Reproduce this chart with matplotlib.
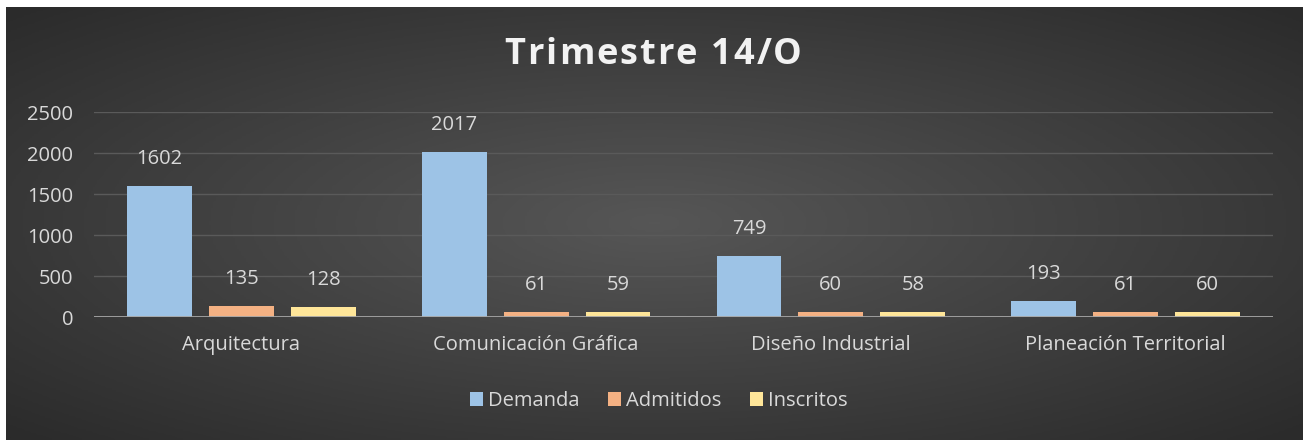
import matplotlib
matplotlib.use('Agg')
import matplotlib.pyplot as plt
import numpy as np

categorias = ["Arquitectura", "Comunicación Gráfica", "Diseño Industrial", "Planeación Territorial"]
series = ["Demanda", "Admitidos", "Inscritos"]
demanda = [1602, 2017, 749, 193]
admitidos = [135, 61, 60, 61]
inscritos = [128, 59, 58, 60]
colores = ["#9DC3E6", "#F4B183", "#FFE699"]
yticks = [0, 500, 1000, 1500, 2000, 2500]
titulo = "Trimestre 14/O"

plt.rcParams['font.family'] = ['Open Sans', 'DejaVu Sans']
fs = 14.5

W, H = 1303, 440
fig = plt.figure(figsize=(W / 100, H / 100), dpi=100)
fig.patch.set_facecolor('white')

# background with radial gradient (dark)
bg = fig.add_axes([6 / W, 0, 1 - 6 / W, 1 - 7 / H])
yy, xx = np.mgrid[-1:1:200j, -1:1:600j]
r = np.sqrt(xx ** 2 + yy ** 2)
grad = np.clip(r / 1.4, 0, 1)
bg.imshow(grad, cmap=matplotlib.colors.LinearSegmentedColormap.from_list('g', ['#565656', '#2b2b2b']),
          aspect='auto', extent=[0, 1, 0, 1])
bg.set_axis_off()

ax = fig.add_axes([94 / W, 1 - 317 / H, (1273 - 94) / W, (317 - 112) / H])
ax.patch.set_alpha(0)

x = np.arange(len(categorias))
ancho = 0.22
paso = 0.278
valores = [demanda, admitidos, inscritos]
for i, (nombre, vals) in enumerate(zip(series, valores)):
    pos = x + (i - 1) * paso
    bars = ax.bar(pos, vals, width=ancho, color=colores[i], label=nombre, zorder=3)
    for b, v in zip(bars, vals):
        ax.annotate(str(v), (b.get_x() + b.get_width() / 2, v), xytext=(0, 27),
                    textcoords='offset pixels', ha='center', va='center',
                    color='#d9d9d9', fontsize=fs)

ax.set_xlim(-0.5, len(categorias) - 0.5)
ax.set_ylim(0, 2500)
ax.set_yticks(yticks)
ax.grid(axis='y', color='#5a5a5a', linewidth=1, zorder=0)
ax.axhline(0, color='#a6a6a6', linewidth=2, zorder=4)
for s in ax.spines.values():
    s.set_visible(False)
ax.tick_params(length=0, colors='#d9d9d9', labelsize=fs)
ax.tick_params(axis='y', pad=15)
ax.set_xticks(x)
ax.set_xticklabels(categorias)
ax.tick_params(axis='x', pad=13)

# title with letter spacing
renderer = fig.canvas.get_renderer()
tracking = 2
partes = []
for ch in titulo:
    t = fig.text(0, 0, ch, color='#f2f2f2', fontsize=26, fontweight='bold', va='center', ha='left')
    w = t.get_window_extent(renderer).width if ch != ' ' else 10
    partes.append((t, w))
total = sum(w for _, w in partes) + tracking * (len(partes) - 1)
xpos = 653 - total / 2
for t, w in partes:
    t.set_position((xpos / W, 1 - 55 / H))
    xpos += w + tracking

fig.legend(loc='center', bbox_to_anchor=(659 / W, 1 - 401 / H), ncol=3, frameon=False,
           fontsize=fs, labelcolor='#d9d9d9', handlelength=0.65, handleheight=0.65,
           handletextpad=0.25, columnspacing=1.4)

fig.savefig('out.png', dpi=100)
